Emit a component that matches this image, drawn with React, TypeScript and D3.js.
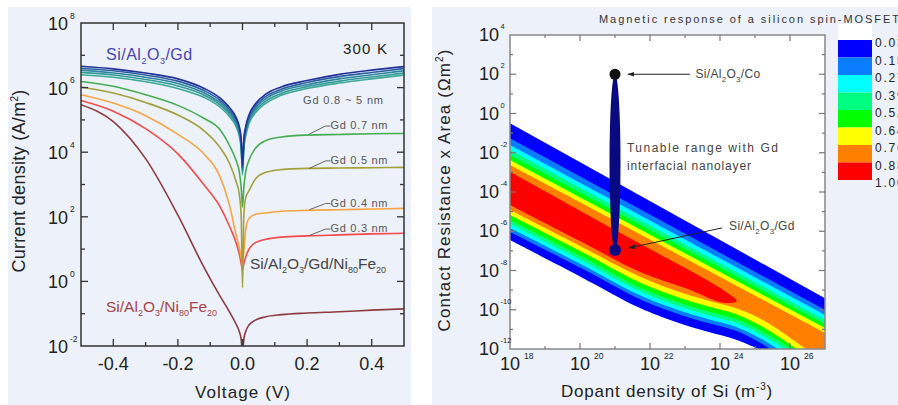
import React from 'react';
import * as d3 from 'd3';

const W = 898;
const H = 405;
const FONT = '"Liberation Sans", Arial, sans-serif';

// ---------- left chart: log10 of current density (A/m^2) vs voltage ----------
const voltages = [-0.5, -0.4, -0.3, -0.2, -0.12, -0.07, -0.04, -0.02, -0.01, -0.004, 0, 0.004, 0.01, 0.02, 0.04, 0.07, 0.12, 0.2, 0.3, 0.4, 0.5];
const gd5nm = [6.66, 6.58, 6.45, 6.27, 5.98, 5.68, 5.38, 5.08, 4.8, 4.4, 3.6, 4.4, 4.8, 5.15, 5.5, 5.78, 6.02, 6.22, 6.41, 6.54, 6.65];
const gd3nm = [6.6, 6.52, 6.39, 6.2, 5.91, 5.61, 5.31, 5.01, 4.73, 4.33, 3.52, 4.33, 4.73, 5.08, 5.43, 5.71, 5.95, 6.16, 6.34, 6.47, 6.59];
const gd2nm = [6.54, 6.45, 6.32, 6.13, 5.84, 5.54, 5.24, 4.94, 4.65, 4.25, 3.45, 4.25, 4.65, 5.01, 5.36, 5.64, 5.89, 6.09, 6.27, 6.4, 6.52];
const gd1nm = [6.47, 6.39, 6.25, 6.05, 5.77, 5.47, 5.17, 4.87, 4.58, 4.18, 3.38, 4.18, 4.58, 4.95, 5.29, 5.57, 5.82, 6.03, 6.2, 6.33, 6.45];
const gd08nm = [6.4, 6.32, 6.18, 5.97, 5.7, 5.4, 5.1, 4.8, 4.5, 4.1, 3.3, 4.1, 4.5, 4.88, 5.22, 5.5, 5.76, 5.97, 6.14, 6.27, 6.39];
const gd07nm = [6.19, 6.04, 5.78, 5.45, 5.05, 4.7, 4.2, 3.75, 3.4, 2.9, 2.3, 2.9, 3.4, 3.75, 4.12, 4.35, 4.47, 4.53, 4.55, 4.57, 4.58];
const gd05nm = [6.02, 5.83, 5.54, 5.15, 4.67, 4.15, 3.65, 3.1, 2.7, 2.0, -0.2, 2.0, 2.6, 2.8, 3.17, 3.37, 3.46, 3.5, 3.51, 3.52, 3.53];
const gd04nm = [5.78, 5.52, 5.13, 4.55, 3.95, 3.25, 2.35, 1.45, 1.05, 0.75, 0.55, 0.9, 1.6, 1.95, 2.08, 2.12, 2.17, 2.2, 2.22, 2.24, 2.26];
const gd03nm = [5.6, 5.27, 4.73, 3.95, 3.0, 2.32, 1.7, 1.2, 0.85, 0.55, 0.35, 0.55, 0.75, 1.0, 1.2, 1.3, 1.37, 1.41, 1.44, 1.47, 1.49];
const nife = [5.47, 4.95, 3.8, 2.05, 0.45, -0.45, -0.95, -1.32, -1.55, -1.8, -2.3, -1.8, -1.55, -1.35, -1.2, -1.1, -1.03, -0.98, -0.94, -0.89, -0.85];

const curves = [
  { values: nife, color: '#8e3b3f' },
  { values: gd03nm, color: '#f24a4a' },
  { values: gd04nm, color: '#f7a445' },
  { values: gd05nm, color: '#a3a03c' },
  { values: gd07nm, color: '#45ad52' },
  { values: gd08nm, color: '#3ca896' },
  { values: gd1nm, color: '#319a98' },
  { values: gd2nm, color: '#2c849c' },
  { values: gd3nm, color: '#29609f' },
  { values: gd5nm, color: '#22309a' },
];

// label: text, voltage where leader starts, logJ at start, logJ of label centre
const gdLabels = [
  { text: 'Gd 0.7 nm', v: 0.207, from: 4.56, to: 4.84 },
  { text: 'Gd 0.5 nm', v: 0.207, from: 3.5, to: 3.76 },
  { text: 'Gd 0.4 nm', v: 0.207, from: 2.22, to: 2.44 },
  { text: 'Gd 0.3 nm', v: 0.207, from: 1.42, to: 1.65 },
];

const xTicksLeft = d3.range(-5, 6).map((i) => i / 10);
const xLabelsLeft = ['-0.4', '-0.2', '0.0', '0.2', '0.4'];
const yExpLeft = d3.range(-2, 9);

// ---------- right chart: contour boundaries, [log10 N, log10 RA] ----------
const levelLabels = ['0.03', '0.15', '0.27', '0.39', '0.52', '0.64', '0.76', '0.88', '1.00'];
const levelColors = ['#0000ff', '#0a7cff', '#00ffff', '#00ff80', '#00ff00', '#ffff00', '#ff8000', '#ff0000'];
const upperAt18 = [-0.5, -1.26, -1.61, -1.86, -2.11, -2.37, -2.62];
const upperAt27 = [-9.42, -10.01, -10.27, -10.52, -10.73, -10.93, -11.18];
const lower003 = [[18, -6.45], [20, -8.3], [21.7, -9.9], [22.7, -10.6], [23.6, -11.1], [24.5, -11.55], [25.1, -12]];
const lower015 = [[18, -6.04], [20, -7.85], [21.7, -9.45], [22.7, -10.15], [23.6, -10.65], [24.5, -11.1], [25.45, -12]];
const lower027 = [[18, -5.83], [20, -7.65], [21.7, -9.25], [22.7, -9.95], [23.6, -10.45], [24.5, -10.9], [25.3, -11.6], [25.65, -12]];
const lower039 = [[18, -5.63], [20, -7.45], [21.7, -9.05], [22.7, -9.75], [23.6, -10.25], [24.5, -10.7], [25.3, -11.4], [25.85, -12]];
const lower052 = [[18, -5.43], [20, -7.25], [21.7, -8.85], [22.7, -9.55], [23.6, -10.05], [24.5, -10.5], [25.3, -11.2], [26.05, -12]];
const lower064 = [[18, -5.17], [20, -7.0], [21.7, -8.6], [22.7, -9.3], [23.6, -9.8], [24.5, -10.25], [25.3, -10.95], [26.2, -12]];
const lower076 = [[18, -4.92], [20, -6.75], [21.7, -8.3], [22.7, -9.0], [23.6, -9.5], [24.5, -9.95], [25.3, -10.6], [26.45, -12]];
const lowerBounds = [lower003, lower015, lower027, lower039, lower052, lower064, lower076];
const redOutline = [[18, -2.97], [21, -5.94], [24.1, -9.0], [24.48, -9.55], [24.1, -9.64], [23.1, -8.95], [21.7, -8.06], [20, -6.5], [18, -4.66]];

const cobalt = [21, 2];
const gdPoint = [21, -6.96];

const xExpRight = d3.range(18, 28);
const yExpRight = d3.range(-12, 5);

const Sub = ({ children, size = 9 }: { children: React.ReactNode; size?: number }) => (
  <tspan fontSize={size} dy={4}>{children}</tspan>
);
const Up = ({ children }: { children: React.ReactNode }) => <tspan dy={-4}>{children}</tspan>;

export default function App() {
  // left scales
  const xL = d3.scaleLinear().domain([-0.5, 0.5]).range([81, 404]);
  const yL = d3.scaleLog().domain([1e-2, 1e8]).range([346, 23]);
  const line = d3
    .line<number>()
    .x((_, i) => xL(voltages[i]))
    .y((d) => yL(10 ** d))
    .curve(d3.curveMonotoneX);

  // right scales
  const xR = d3.scaleLog().domain([1e18, 1e27]).range([510, 825]);
  const yR = d3.scaleLog().domain([1e-12, 1e4]).range([349, 35]);
  const P = (p: number[]) => [xR(10 ** p[0]), yR(10 ** p[1])] as [number, number];
  const smooth = d3.line().curve(d3.curveCatmullRom.alpha(0.5));
  const bandPath = (i: number) => {
    const a = P([18, upperAt18[i]]);
    const b = P([27, upperAt27[i]]);
    const c = P([27, -12]);
    const low = smooth(lowerBounds[i].slice().reverse().map(P))!.replace(/^M/, 'L');
    return `M${a}L${b}L${c}${low}Z`;
  };
  const redPath = smooth(redOutline.map(P)) + 'Z';
  const cb = d3.scaleLinear().domain([0, 8]).range([40, 180]);

  const [cx, coY] = P(cobalt);
  const [, gdY] = P(gdPoint);

  return (
    <div style={{ position: 'absolute', left: 0, top: 0 }}>
      <svg width={W} height={H} style={{ display: 'block', fontFamily: FONT }}>
        <defs>
          <clipPath id="clipL">
            <rect x={81} y={23} width={323} height={323} />
          </clipPath>
          <clipPath id="clipR">
            <rect x={510} y={35} width={315} height={314} />
          </clipPath>
          <marker id="arr" viewBox="0 0 10 10" refX={9} refY={5} markerWidth={7} markerHeight={7} orient="auto">
            <path d="M0,1.5L10,5L0,8.5Z" fill="#222" />
          </marker>
        </defs>
        <rect width={W} height={H} fill="#fff" />

        {/* ================= LEFT PANEL ================= */}
        <rect x={8} y={7} width={403} height={398} fill="#edf1fa" />
        <g clipPath="url(#clipL)">
          {curves.map((c, i) => (
            <path key={i} d={line(c.values)!} fill="none" stroke={c.color} strokeWidth={1.6} />
          ))}
        </g>
        <rect x={81} y={23} width={323} height={323} fill="none" stroke="#333" strokeWidth={1.5} />
        {xTicksLeft.slice(1, -1).map((v, i) => {
          const major = Math.round(v * 10) % 2 === 0;
          const len = major ? 7 : 4;
          return (
            <g key={i} stroke="#333" strokeWidth={1.3}>
              <line x1={xL(v)} x2={xL(v)} y1={346} y2={346 - len} />
              <line x1={xL(v)} x2={xL(v)} y1={23} y2={23 + len} />
            </g>
          );
        })}
        {xLabelsLeft.map((t) => (
          <text key={t} x={xL(+t)} y={369.5} fontSize={18} textAnchor="middle" fill="#222">{t}</text>
        ))}
        {yExpLeft.map((e) => {
          const y = yL(10 ** e);
          const major = e % 2 === 0;
          const len = major ? 7 : 4;
          return (
            <g key={e}>
              {e > -2 && e < 8 && (
                <g stroke="#333" strokeWidth={1.3}>
                  <line x1={81} x2={81 + len} y1={y} y2={y} />
                  <line x1={404} x2={404 - len} y1={y} y2={y} />
                </g>
              )}
              {major && (
                <g fill="#222">
                  <text x={68} y={y + 7} fontSize={18} textAnchor="end">10</text>
                  <text x={70} y={y - 4.5} fontSize={8.5}>{e}</text>
                </g>
              )}
            </g>
          );
        })}
        <text x={243} y={398} fontSize={17} letterSpacing={1.1} textAnchor="middle" fill="#222">Voltage (V)</text>
        <text transform="translate(25,181) rotate(-90)" fontSize={18} letterSpacing={0.3} textAnchor="middle" fill="#222">
          Current density (A/m<tspan fontSize={10} dy={-7}>2</tspan><tspan dy={7}>)</tspan>
        </text>

        <text x={106} y={59.5} fontSize={16} letterSpacing={0.5} fill="#4444b4">
          Si/Al<Sub>2</Sub><Up>O</Up><Sub>3</Sub><Up>/Gd</Up>
        </text>
        <text x={343} y={54} fontSize={15} fill="#222" textLength={44}>300 K</text>
        <text x={303} y={104} fontSize={11} fill="#555" textLength={80}>Gd 0.8 ~ 5 nm</text>
        {gdLabels.map((g) => {
          const x0 = xL(g.v);
          const y0 = yL(10 ** g.from);
          const x1 = xL(g.v + 0.05);
          const y1 = yL(10 ** (g.to - 0.03));
          return (
            <g key={g.text}>
              <polyline points={`${x0},${y0} ${x1},${y1} ${x1 + 5},${y1}`} fill="none" stroke="#555" strokeWidth={0.9} />
              <text x={x1 + 5} y={yL(10 ** g.to) + 4} fontSize={11} fill="#555" textLength={57}>{g.text}</text>
            </g>
          );
        })}
        <text x={250} y={269} fontSize={15.5} fill="#444">
          Si/Al<Sub>2</Sub><Up>O</Up><Sub>3</Sub><Up>/Gd/Ni</Up><Sub>80</Sub><Up>Fe</Up><Sub>20</Sub>
        </text>
        <text x={106} y={312} fontSize={15.5} fill="#a54448">
          Si/Al<Sub>2</Sub><Up>O</Up><Sub>3</Sub><Up>/Ni</Up><Sub>80</Sub><Up>Fe</Up><Sub>20</Sub>
        </text>

        {/* ================= RIGHT PANEL ================= */}
        <rect x={432} y={7} width={466} height={398} fill="#edf1fa" />
        <rect x={510} y={35} width={315} height={314} fill="#fff" />
        <g clipPath="url(#clipR)">
          {lowerBounds.map((_, i) => (
            <path key={i} d={bandPath(i)} fill={levelColors[i]} />
          ))}
          <path d={redPath} fill={levelColors[7]} />
        </g>

        <ellipse cx={cx} cy={(coY + gdY) / 2} rx={5.5} ry={(gdY - coY) / 2} fill="#0a0a80" />
        <circle cx={cx} cy={coY} r={5.5} fill="#111" />
        <circle cx={cx} cy={gdY} r={6} fill="#0a0a80" />

        <rect x={510} y={35} width={315} height={314} fill="none" stroke="#888" strokeWidth={1.5} />
        {xExpRight.slice(1, -1).map((e) => {
          const x = xR(10 ** e);
          const len = e % 2 === 0 ? 6 : 3;
          return (
            <g key={e} stroke="#777" strokeWidth={1.2}>
              <line x1={x} x2={x} y1={349} y2={349 - len} />
              <line x1={x} x2={x} y1={35} y2={35 + len} />
            </g>
          );
        })}
        {xExpRight.filter((e) => e % 2 === 0).map((e) => {
          const x = xR(10 ** e);
          return (
            <g key={e} fill="#222">
              <text x={x} y={370} fontSize={18} textAnchor="middle">10</text>
              <text x={x + 14} y={358.5} fontSize={8.5}>{e}</text>
            </g>
          );
        })}
        {yExpRight.map((e) => {
          const y = yR(10 ** e);
          const len = e % 2 === 0 ? 6 : 3;
          return (
            <g key={e}>
              {e > -12 && e < 4 && (
                <g stroke="#777" strokeWidth={1.2}>
                  <line x1={510} x2={510 + len} y1={y} y2={y} />
                  <line x1={825} x2={825 - len} y1={y} y2={y} />
                </g>
              )}
              {e % 2 === 0 && (
                <g fill="#222">
                  <text x={499} y={y + 6} fontSize={18} textAnchor="end">10</text>
                  <text x={500.5} y={y - 6} fontSize={7.5}>{e}</text>
                </g>
              )}
            </g>
          );
        })}
        <text x={667} y={397} fontSize={17} letterSpacing={0.8} textAnchor="middle" fill="#222">
          Dopant density of Si (m<tspan fontSize={10} dy={-7}>-3</tspan><tspan dy={7}>)</tspan>
        </text>
        <text transform="translate(450,190) rotate(-90)" fontSize={17} letterSpacing={1.1} textAnchor="middle" fill="#222">
          Contact Resistance x Area (Ωm<tspan fontSize={10} dy={-7}>2</tspan><tspan dy={7}>)</tspan>
        </text>
        <text x={599} y={23} fontSize={11} fill="#333" textLength={300} lengthAdjust="spacing">
          Magnetic response of a silicon spin-MOSFET
        </text>

        {/* annotations */}
        <line x1={xR(10 ** 23.14)} y1={coY} x2={xR(10 ** 21.37)} y2={coY} stroke="#222" strokeWidth={1} markerEnd="url(#arr)" />
        <text x={xR(10 ** 23.3)} y={coY + 4} fontSize={12} fill="#444" letterSpacing={0.3}>
          Si/Al<Sub size={8}>2</Sub><Up>O</Up><Sub size={8}>3</Sub><Up>/Co</Up>
        </text>
        <line x1={xR(10 ** 24.06)} y1={yR(10 ** -5.83)} x2={xR(10 ** 21.4)} y2={yR(10 ** -6.85)} stroke="#222" strokeWidth={1} markerEnd="url(#arr)" />
        <text x={xR(10 ** 24.26)} y={yR(10 ** -5.73) + 4} fontSize={12} fill="#444" letterSpacing={0.3}>
          Si/Al<Sub size={8}>2</Sub><Up>O</Up><Sub size={8}>3</Sub><Up>/Gd</Up>
        </text>
        <text x={xR(10 ** 21.34)} y={yR(10 ** -1.76) + 4} fontSize={12} fill="#444" textLength={151}>Tunable range with Gd</text>
        <text x={xR(10 ** 21.34)} y={yR(10 ** -2.68) + 4} fontSize={12} fill="#444" textLength={124}>interfacial nanolayer</text>

        {/* colour bar */}
        <rect x={838} y={24} width={34} height={16} fill="#fff" />
        {levelColors.map((c, i) => (
          <rect key={c} x={838} y={cb(i)} width={34} height={cb(i + 1) - cb(i)} fill={c} />
        ))}
        {levelLabels.map((t, i) => (
          <text key={t} x={875} y={cb(i) + 7} fontSize={12} letterSpacing={1.8} fill="#222">{t}</text>
        ))}
      </svg>
    </div>
  );
}
